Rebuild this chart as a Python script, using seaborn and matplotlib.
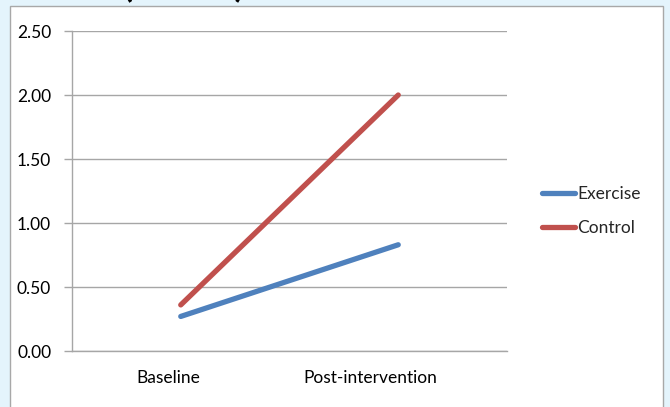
import pandas as pd
import matplotlib.pyplot as plt
import matplotlib.patches as mpatches
import seaborn as sns

# data
timepoints = ["Baseline", "Post-intervention"]
exercise = [0.27, 0.83]
control = [0.36, 2.00]
groups = ["Exercise", "Control"]
colors = ["#4F81BD", "#C0504D"]

df = pd.DataFrame({
    "time": timepoints * 2,
    "value": exercise + control,
    "group": [groups[0]] * 2 + [groups[1]] * 2,
})

sns.set_style("white")
plt.rcParams["font.family"] = ["Lato", "DejaVu Sans"]
fs = 12.5

fig = plt.figure(figsize=(6.7, 4.07), dpi=100)
fig.patch.set_facecolor("#E4F4FC")

# white panel with grey frame
W, H = 670, 407
panel = mpatches.Rectangle((10 / W, -0.05), 653 / W, 1 - 6 / H + 0.05,
                           transform=fig.transFigure, facecolor="white",
                           edgecolor="#A8A8A8", linewidth=1.0, zorder=-10)
fig.patches.append(panel)

# title cut off at the top of the slide
fig.text(184 / W, 1 + 3 / H, "(scores)", ha="center", va="baseline",
         fontsize=26, fontweight="bold", color="black")

ax = fig.add_axes([72 / W, 1 - 351 / H, 435 / W, 320 / H])
ax.set_facecolor("none")

sns.lineplot(data=df, x="time", y="value", hue="group", palette=colors,
             linewidth=3.8, ax=ax, solid_capstyle="round", sort=False)

ax.set_xlim(-0.5, 1.5)
ax.set_ylim(0, 2.5)
ax.set_yticks([0, 0.5, 1.0, 1.5, 2.0, 2.5])
ax.set_yticklabels([f"{v:.2f}" for v in ax.get_yticks()])
# category labels sit a little left of the points, as in the original
ax.set_xticks([-0.055, 0.87])
ax.set_xticklabels(timepoints)
ax.yaxis.grid(True, color="#A6A6A6", linewidth=1.0)
ax.xaxis.grid(False)
ax.set_axisbelow(True)
ax.set_xlabel("")
ax.set_ylabel("")

for s in ["top", "right"]:
    ax.spines[s].set_visible(False)
for s in ["left", "bottom"]:
    ax.spines[s].set_color("#A6A6A6")
    ax.spines[s].set_linewidth(1.0)

ax.tick_params(axis="y", which="both", left=True, length=6, width=1.0,
               color="#A6A6A6", labelsize=fs, pad=9, labelcolor="black")
ax.tick_params(axis="x", bottom=False, labelsize=fs, pad=10,
               labelcolor="black")

handles, labels = ax.get_legend_handles_labels()
ax.legend(handles, labels, loc="center left",
          bbox_to_anchor=(526 / W, 1 - 211 / H), bbox_transform=fig.transFigure,
          frameon=False, fontsize=fs, handlelength=1.95, handletextpad=0.1,
          labelspacing=1.05)

fig.savefig("out.png", dpi=100)
